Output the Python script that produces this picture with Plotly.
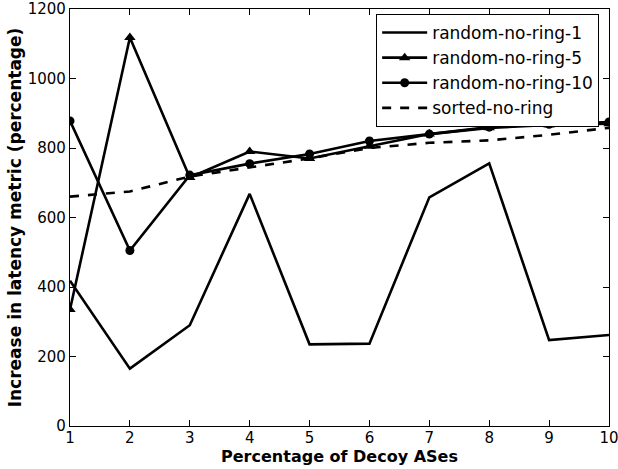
import plotly.graph_objects as go

x = [1, 2, 3, 4, 5, 6, 7, 8, 9, 10]
r1 = [418, 165, 290, 668, 235, 237, 658, 756, 247, 262]
r5 = [335, 1118, 715, 790, 770, 805, 840, 858, 866, 870]
r10 = [878, 505, 722, 755, 783, 820, 840, 860, 868, 875]
srt = [660, 675, 718, 745, 770, 800, 815, 822, 838, 858]

fig = go.Figure()
lw = 2.6
fig.add_trace(go.Scatter(x=x, y=r1, mode="lines", name="random-no-ring-1",
                         line=dict(color="black", width=lw)))
fig.add_trace(go.Scatter(x=x, y=r5, mode="lines+markers", name="random-no-ring-5",
                         line=dict(color="black", width=lw),
                         marker=dict(symbol="triangle-up", size=10, color="black")))
fig.add_trace(go.Scatter(x=x, y=r10, mode="lines+markers", name="random-no-ring-10",
                         line=dict(color="black", width=lw),
                         marker=dict(symbol="circle", size=9, color="black")))
fig.add_trace(go.Scatter(x=x, y=srt, mode="lines", name="sorted-no-ring",
                         line=dict(color="black", width=lw, dash="dash")))

font = "DejaVu Sans"
axis_common = dict(showline=True, linecolor="black", linewidth=1.2, mirror="ticks",
                   ticks="inside", ticklen=6, tickcolor="black", tickwidth=1,
                   showgrid=False, zeroline=False, automargin=False,
                   ticklabeloverflow="allow",
                   tickfont=dict(family=font, size=15, color="black"))
fig.update_layout(
    width=618, height=469,
    margin=dict(l=70, r=9, t=9, b=43),
    plot_bgcolor="white", paper_bgcolor="white",
    font=dict(family=font, color="black"),
    xaxis=dict(range=[1, 10], tickvals=x, **axis_common, ticklabelstandoff=-2,
               title=dict(text="<b>Percentage of Decoy ASes</b>",
                          font=dict(family=font, size=16), standoff=2)),
    yaxis=dict(range=[0, 1200], tickvals=[0, 200, 400, 600, 800, 1000, 1200], **axis_common,
               title=dict(text="<b>Increase in latency metric (percentage)</b>",
                          font=dict(family=font, size=17), standoff=1)),
    legend=dict(x=0.568, y=0.988, xanchor="left", yanchor="top",
                bgcolor="white", bordercolor="black", borderwidth=1,
                font=dict(family=font, size=17), itemwidth=45,
                tracegroupgap=0),
    showlegend=True,
)

fig.write_html("out.html")
